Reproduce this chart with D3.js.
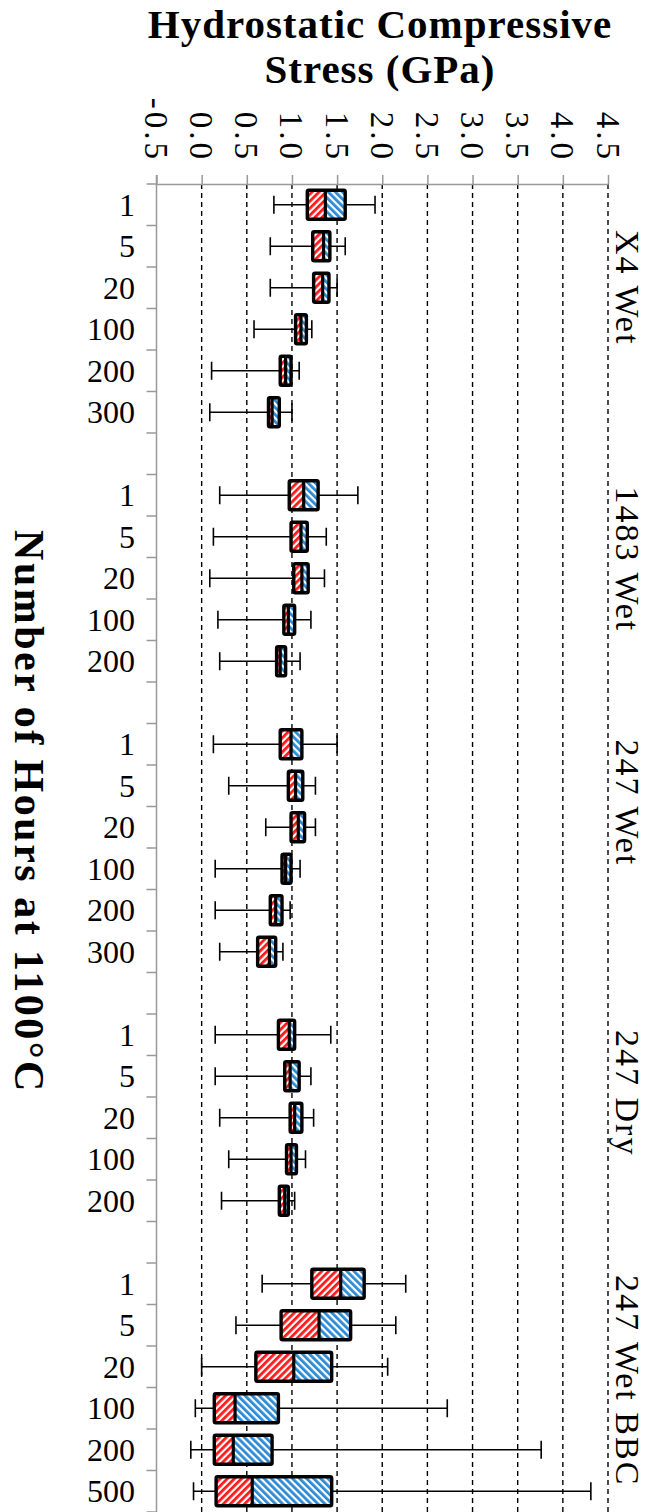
<!DOCTYPE html>
<html>
<head>
<meta charset="utf-8">
<script src="https://cdn.jsdelivr.net/npm/d3@7/dist/d3.min.js"></script>
<style>
  html, body { margin: 0; padding: 0; background: #fff; }
  svg { display: block; }
  text { font-family: "Liberation Serif", "Times New Roman", serif; fill: #000; }
</style>
</head>
<body>
<svg id="chart" width="650" height="1512"></svg>
<script>
// ---------------- DATA ----------------
const groups = ["X4 Wet", "1483 Wet", "247 Wet", "247 Dry", "247 Wet BBC"];
const hoursX4 = ["1", "5", "20", "100", "200", "300"];
const hours1483 = ["1", "5", "20", "100", "200"];
const hours247Wet = ["1", "5", "20", "100", "200", "300"];
const hours247Dry = ["1", "5", "20", "100", "200"];
const hoursBBC = ["1", "5", "20", "100", "200", "500"];
const groupHours = [hoursX4, hours1483, hours247Wet, hours247Dry, hoursBBC];

// statistics, in order of groups / hours
const whiskerMin = [0.80, 0.76, 0.76, 0.58, 0.11, 0.09,
                    0.20, 0.13, 0.09, 0.18, 0.20,
                    0.13, 0.30, 0.71, 0.15, 0.15, 0.20,
                    0.15, 0.15, 0.20, 0.30, 0.22,
                    0.67, 0.38, 0.00, -0.07, -0.12, -0.09];
const quart1 = [1.17, 1.23, 1.24, 1.04, 0.87, 0.74,
                0.97, 0.99, 1.02, 0.91, 0.83,
                0.87, 0.96, 0.99, 0.89, 0.76, 0.62,
                0.85, 0.92, 0.98, 0.94, 0.86,
                1.22, 0.88, 0.60, 0.14, 0.14, 0.16];
const medianVal = [1.37, 1.35, 1.34, 1.10, 0.93, 0.78,
                   1.13, 1.10, 1.11, 0.96, 0.87,
                   0.99, 1.04, 1.07, 0.93, 0.82, 0.75,
                   0.97, 0.98, 1.03, 0.99, 0.92,
                   1.54, 1.30, 1.02, 0.37, 0.35, 0.56];
const quart3 = [1.59, 1.42, 1.41, 1.16, 0.99, 0.86,
                1.29, 1.17, 1.18, 1.03, 0.93,
                1.11, 1.12, 1.14, 0.99, 0.89, 0.82,
                1.03, 1.08, 1.11, 1.05, 0.96,
                1.80, 1.65, 1.44, 0.85, 0.78, 1.44];
const whiskerMax = [1.92, 1.59, 1.50, 1.22, 1.08, 1.00,
                    1.73, 1.38, 1.36, 1.21, 1.09,
                    1.50, 1.26, 1.26, 1.09, 0.98, 0.90,
                    1.43, 1.21, 1.24, 1.15, 1.03,
                    2.26, 2.15, 2.06, 2.72, 3.76, 4.31];

const xTicks = [-0.5, 0.0, 0.5, 1.0, 1.5, 2.0, 2.5, 3.0, 3.5, 4.0, 4.5];
const xTickLabels = ["-0.5", "0.0", "0.5", "1.0", "1.5", "2.0", "2.5", "3.0", "3.5", "4.0", "4.5"];
const titleLines = ["Hydrostatic Compressive", "Stress (GPa)"];
const yTitle = "Number of Hours at 1100\u00B0C";

// ---------------- LAYOUT ----------------
const svg = d3.select("#chart");
const plotTop = 184, plotBottom = 1512, plotLeft = 156.5, plotRight = 608;
const labelStartOffset = [46, 12, 16, 16, 12]; // px from group's first slot to label start

// build slots (with one empty slot between groups)
const slots = [];
let idx = 0;
groups.forEach((g, gi) => {
  if (gi > 0) slots.push({ key: "gap" + gi, gap: true });
  groupHours[gi].forEach((h, hi) => {
    slots.push({ key: g + "|" + h, hour: h, group: g, gi,
      min: whiskerMin[idx], q1: quart1[idx], med: medianVal[idx], q3: quart3[idx], max: whiskerMax[idx] });
    idx++;
  });
});

const x = d3.scaleLinear().domain([-0.5, 4.5]).range([plotLeft, plotRight]);
const y = d3.scaleBand().domain(slots.map(s => s.key)).range([plotTop, plotBottom]).padding(0);
const bw = y.bandwidth();

// patterns
const defs = svg.append("defs");
function hatch(id, color, angle) {
  const p = defs.append("pattern").attr("id", id).attr("patternUnits", "userSpaceOnUse")
    .attr("width", 5).attr("height", 5).attr("patternTransform", `rotate(${angle})`);
  p.append("rect").attr("width", 5).attr("height", 5).attr("fill", "#fff");
  p.append("rect").attr("x", 0).attr("y", 0).attr("width", 2.8).attr("height", 5).attr("fill", color);
}
hatch("hatchRed", "#ff1a1a", 45);
hatch("hatchBlue", "#2d8ad4", -45);

// gridlines
svg.append("g").selectAll("line").data(xTicks.filter(v => v > -0.5)).join("line")
  .attr("x1", d => x(d)).attr("x2", d => x(d))
  .attr("y1", plotTop).attr("y2", plotBottom)
  .attr("stroke", "#000").attr("stroke-width", 1.4).attr("stroke-dasharray", "5,4");

// x axis (top)
const xAxis = d3.axisTop(x).tickValues(xTicks).tickSize(9).tickSizeOuter(0).tickFormat("");
const gx = svg.append("g").attr("transform", `translate(0,${plotTop})`).call(xAxis);
gx.select(".domain").attr("stroke", "#999").attr("stroke-width", 1.5);
gx.selectAll(".tick line").attr("stroke", "#999").attr("stroke-width", 1.5);

// x tick labels rotated
svg.append("g").selectAll("text").data(xTicks).join("text")
  .attr("transform", d => `translate(${x(d) - 11.5},162) rotate(90)`)
  .attr("text-anchor", "end")
  .style("font-size", "33px").style("letter-spacing", "3px")
  .text((d, i) => xTickLabels[i]);

// y axis (left)
svg.append("line").attr("x1", plotLeft).attr("x2", plotLeft)
  .attr("y1", plotTop - 9).attr("y2", plotBottom)
  .attr("stroke", "#999").attr("stroke-width", 1.5);
const boundaries = slots.map(s => y(s.key)).concat([plotBottom]);
svg.append("g").selectAll("line").data(boundaries).join("line")
  .attr("x1", plotLeft - 10).attr("x2", plotLeft)
  .attr("y1", d => d).attr("y2", d => d)
  .attr("stroke", "#999").attr("stroke-width", 1.5);

// y labels
const dataSlots = slots.filter(s => !s.gap);
svg.append("g").selectAll("text").data(dataSlots).join("text")
  .attr("x", 135).attr("y", d => y(d.key) + bw / 2 + 11)
  .attr("text-anchor", "end")
  .style("font-size", "32px")
  .text(d => d.hour);

// boxes
const boxH = 29, capH = 18;
const gb = svg.append("g");
dataSlots.forEach(d => {
  const cy = y(d.key) + bw / 2;
  const g = gb.append("g");
  g.append("line").attr("x1", x(d.min)).attr("x2", x(d.max)).attr("y1", cy).attr("y2", cy)
    .attr("stroke", "#000").attr("stroke-width", 1.5);
  [d.min, d.max].forEach(v => g.append("line").attr("x1", x(v)).attr("x2", x(v))
    .attr("y1", cy - capH / 2).attr("y2", cy + capH / 2).attr("stroke", "#000").attr("stroke-width", 1.6));
  g.append("rect").attr("x", x(d.q1)).attr("y", cy - boxH / 2).attr("width", x(d.med) - x(d.q1)).attr("height", boxH)
    .attr("fill", "url(#hatchRed)");
  g.append("rect").attr("x", x(d.med)).attr("y", cy - boxH / 2).attr("width", x(d.q3) - x(d.med)).attr("height", boxH)
    .attr("fill", "url(#hatchBlue)");
  g.append("rect").attr("x", x(d.q1)).attr("y", cy - boxH / 2).attr("width", x(d.q3) - x(d.q1)).attr("height", boxH)
    .attr("fill", "none").attr("stroke", "#000").attr("stroke-width", 3.4).attr("rx", 1.5);
  g.append("line").attr("x1", x(d.med)).attr("x2", x(d.med)).attr("y1", cy - boxH / 2).attr("y2", cy + boxH / 2)
    .attr("stroke", "#000").attr("stroke-width", 3.2);
});

// group labels on the right
svg.append("g").selectAll("text").data(groups).join("text")
  .attr("transform", (g, i) => {
    const first = slots.find(s => s.group === g);
    return `translate(616,${y(first.key) + labelStartOffset[i]}) rotate(90)`;
  })
  .attr("text-anchor", "start")
  .style("font-size", "34px").style("letter-spacing", "2px")
  .text(d => d);

// title
svg.append("g").selectAll("text").data(titleLines).join("text")
  .attr("x", 380).attr("y", (d, i) => 38 + i * 45)
  .attr("text-anchor", "middle")
  .style("font-size", "41px").style("font-weight", "bold").style("letter-spacing", "1px")
  .text(d => d);

// y title
svg.append("text")
  .attr("transform", `translate(15,${(plotTop + plotBottom) / 2 - 36}) rotate(90)`)
  .attr("text-anchor", "middle")
  .style("font-size", "42px").style("font-weight", "bold").style("letter-spacing", "2.5px")
  .text(yTitle);
</script>
</body>
</html>
